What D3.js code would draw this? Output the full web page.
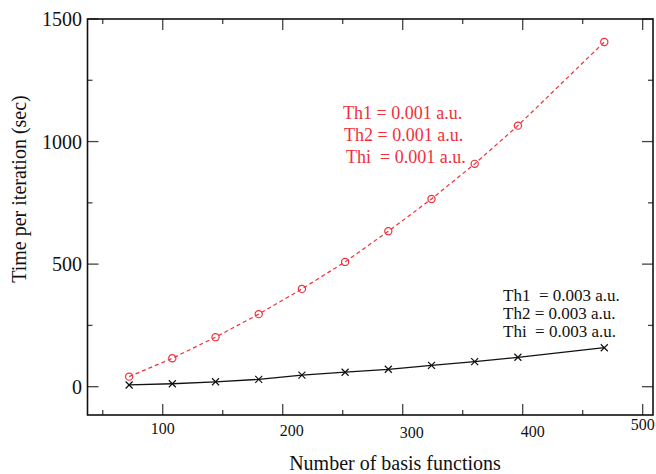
<!DOCTYPE html>
<html>
<head>
<meta charset="utf-8">
<script src="https://cdn.jsdelivr.net/npm/d3@7"></script>
<style>
  body { margin: 0; background: #fff; }
  svg text { font-family: "Liberation Serif", "Times New Roman", Times, "DejaVu Serif", serif; }
</style>
</head>
<body>
<svg id="chart" width="656" height="474"></svg>
<script>
// basis set sizes
let nBasis = [72, 108, 144, 180, 216, 252, 288, 324, 360, 396, 468]
// Th = 0.001 a.u. (red, circles)
let timeFine = [41, 116, 202, 296, 399, 509, 634, 766, 909, 1065, 1406]
// Th = 0.003 a.u. (black, crosses)
let timeCoarse = [7, 12, 20, 30, 47, 59, 71, 87, 102, 120, 159]

let xTicks = [100, 200, 300, 400, 500]
let xMinor = [50, 150, 250, 350, 450]
let yTicks = [0, 500, 1000, 1500]
let yMinor = [250, 750, 1250]

let redNotes = ["Th1 = 0.001 a.u.", "Th2 = 0.001 a.u.", "Thi  = 0.001 a.u."]
let blackNotes = ["Th1  = 0.003 a.u.", "Th2 = 0.003 a.u.", "Thi  = 0.003 a.u."]

let plotL = 87.5, plotR = 653, plotT = 19, plotB = 415
let serif = "'Liberation Serif', 'Times New Roman', Times, 'DejaVu Serif', serif"

var x = d3.scaleLinear().domain([37.3, 508.6]).range([plotL, plotR])
var y = d3.scaleLinear().domain([-115.5, 1500]).range([plotB, plotT])

var svg = d3.select("#chart")

// ticks on all four sides, pointing inward
function xTickSet(vals, len, color) {
    svg.append("g").selectAll("line").data(vals).enter().append("line")
        .attr("x1", d => x(d)).attr("x2", d => x(d))
        .attr("y1", plotB).attr("y2", plotB - len)
        .attr("stroke", color).attr("stroke-width", 1.3)
    svg.append("g").selectAll("line").data(vals).enter().append("line")
        .attr("x1", d => x(d)).attr("x2", d => x(d))
        .attr("y1", plotT).attr("y2", plotT + len)
        .attr("stroke", color).attr("stroke-width", 1.3)
}
function yTickSet(vals, len, color) {
    svg.append("g").selectAll("line").data(vals).enter().append("line")
        .attr("x1", plotL).attr("x2", plotL + len)
        .attr("y1", d => y(d)).attr("y2", d => y(d))
        .attr("stroke", color).attr("stroke-width", 1.3)
    svg.append("g").selectAll("line").data(vals).enter().append("line")
        .attr("x1", plotR).attr("x2", plotR - len)
        .attr("y1", d => y(d)).attr("y2", d => y(d))
        .attr("stroke", color).attr("stroke-width", 1.3)
}
xTickSet(xTicks, 11, "#444")
xTickSet(xMinor, 5, "#444")
yTickSet(yTicks, 11, "#444")
yTickSet(yMinor, 5, "#444")

// frame
svg.append("rect")
    .attr("x", plotL).attr("y", plotT)
    .attr("width", plotR - plotL).attr("height", plotB - plotT)
    .attr("fill", "none").attr("stroke", "#111").attr("stroke-width", 1.6)

// x tick labels (slightly irregular placement as in the original)
let xLabelNudge = [[0, 0], [9, 2], [9, 4], [10, 3], [0, -4]]
svg.append("g").selectAll("text").data(xTicks).enter().append("text")
    .attr("x", (d, i) => x(d) + xLabelNudge[i][0])
    .attr("y", (d, i) => 434 + xLabelNudge[i][1])
    .attr("text-anchor", "middle")
    .attr("font-family", serif)
    .style("font-size", "16px")
    .attr("fill", "#111")
    .text(d => d)

svg.append("g").selectAll("text").data(yTicks).enter().append("text")
    .attr("x", 82)
    .attr("y", d => y(d) + 7)
    .attr("text-anchor", "end")
    .attr("font-family", serif)
    .style("font-size", "20px")
    .attr("fill", "#111")
    .text(d => d)

svg.append("text")
    .attr("x", 395).attr("y", 470)
    .attr("text-anchor", "middle")
    .attr("font-family", serif)
    .style("font-size", "20px")
    .attr("fill", "#111")
    .text("Number of basis functions")

svg.append("text")
    .attr("transform", "translate(26,189) rotate(-90)")
    .attr("text-anchor", "middle")
    .attr("font-family", serif)
    .style("font-size", "20px")
    .attr("fill", "#111")
    .text("Time per iteration (sec)")

var line = d3.line()
    .x(d => x(d[0]))
    .y(d => y(d[1]))

var fine = d3.zip(nBasis, timeFine)
var coarse = d3.zip(nBasis, timeCoarse)

svg.append("path")
    .datum(coarse)
    .attr("d", line)
    .attr("fill", "none")
    .attr("stroke", "#111")
    .attr("stroke-width", 1.3)

svg.append("path")
    .datum(fine)
    .attr("d", line)
    .attr("fill", "none")
    .attr("stroke", "#f0303a")
    .attr("stroke-width", 1.2)
    .attr("stroke-dasharray", "4,3")

svg.append("g").selectAll("circle").data(fine).enter().append("circle")
    .attr("cx", d => x(d[0]))
    .attr("cy", d => y(d[1]))
    .attr("r", 3.6)
    .attr("fill", "none")
    .attr("stroke", "#f0303a")
    .attr("stroke-width", 1.2)

let s = 3.5
var crosses = svg.append("g").selectAll("g").data(coarse).enter().append("g")
    .attr("transform", d => "translate(" + x(d[0]) + "," + y(d[1]) + ")")
crosses.append("line").attr("x1", -s).attr("y1", -s).attr("x2", s).attr("y2", s)
    .attr("stroke", "#111").attr("stroke-width", 1.2)
crosses.append("line").attr("x1", -s).attr("y1", s).attr("x2", s).attr("y2", -s)
    .attr("stroke", "#111").attr("stroke-width", 1.2)

// annotations
let redX = [343, 344, 346]
svg.append("g").selectAll("text").data(redNotes).enter().append("text")
    .attr("x", (d, i) => redX[i])
    .attr("y", (d, i) => 119 + i * 22)
    .attr("font-family", serif)
    .style("font-size", "18px")
    .style("white-space", "pre")
    .attr("fill", "#f0303a")
    .text(d => d)

svg.append("g").selectAll("text").data(blackNotes).enter().append("text")
    .attr("x", 503)
    .attr("y", (d, i) => 301 + i * 18)
    .attr("font-family", serif)
    .style("font-size", "17px")
    .style("white-space", "pre")
    .attr("fill", "#111")
    .text(d => d)
</script>
</body>
</html>
